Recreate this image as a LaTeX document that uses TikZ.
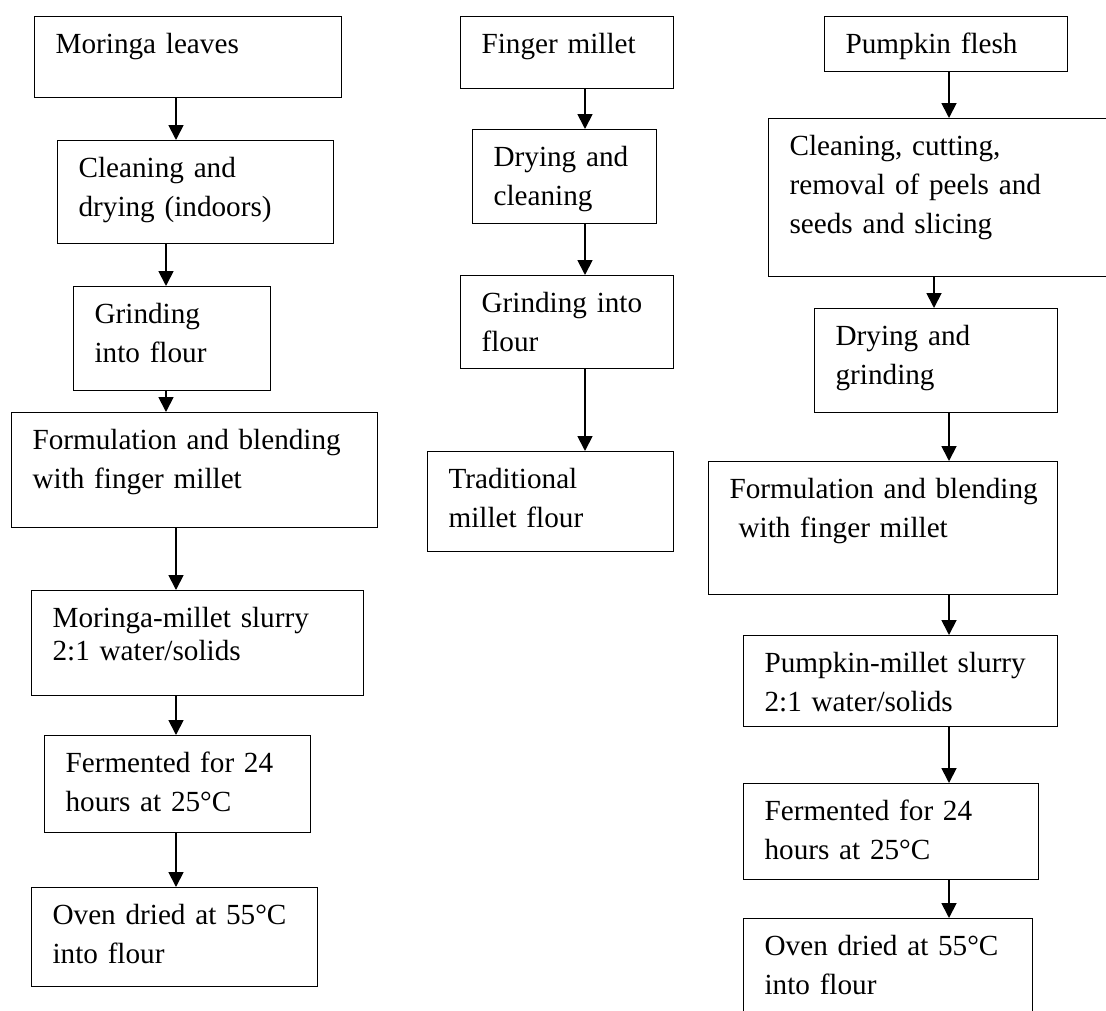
\documentclass[tikz,border=0pt]{standalone}
\usepackage{fontspec}
\setmainfont{Liberation Serif}
\usetikzlibrary{arrows.meta}

\begin{document}
\begin{tikzpicture}[
  x=1pt, y=-1pt,
  line join=miter,
  every node/.style={font=\fontsize{29.2}{39}\selectfont},
  stepbox/.style 2 args={draw, line width=1.2pt, anchor=north west,
    align=left, inner xsep=21pt, inner ysep=0pt,
    text width=#1, text height=37pt, text depth=#2},
  flow/.style={line width=1.8pt, -{Triangle[width=15pt,length=15pt]}}
]

\useasboundingbox (0,0) rectangle (1106,1010);

% --- Moringa column ---
\node[stepbox={265pt}{44pt}] (moringa) at (34,16) {Moringa leaves};
\node[stepbox={234pt}{66pt}] (lclean) at (57,140) {Cleaning and\\drying (indoors)};
\node[stepbox={155pt}{67pt}] (lgrind) at (73,286) {Grinding\\into flour};
\node[stepbox={324pt}{78pt}] (lform) at (11,412) {Formulation and blending\\with finger millet};
\node[stepbox={290pt}{68pt}, font=\fontsize{29.2}{33}\selectfont] (lslurry) at (31,590)
  {Moringa-millet slurry\\2:1 water/solids};
\node[stepbox={224pt}{60pt}] (lferm) at (44,735) {Fermented for 24\\hours at 25°C};
\node[stepbox={244pt}{62pt}] (loven) at (31,887) {Oven dried at 55°C\\into flour};

% --- Finger millet column ---
\node[stepbox={171pt}{35pt}] (finger) at (460,16) {Finger millet};
\node[stepbox={142pt}{57pt}] (mdry) at (472,129) {Drying and\\cleaning};
\node[stepbox={171pt}{56pt}] (mgrind) at (460,275) {Grinding into\\flour};
\node[stepbox={204pt}{63pt}] (trad) at (427,451) {Traditional\\millet flour};

% --- Pumpkin column ---
\node[stepbox={201pt}{18pt}] (pumpkin) at (824,16) {Pumpkin flesh};
\node[stepbox={318pt}{121pt}] (rclean) at (768,118)
  {Cleaning, cutting,\\removal of peels and\\seeds and slicing};
\node[stepbox={201pt}{67pt}] (rdry) at (814,308) {Drying and\\grinding};
\node[stepbox={307pt}{96pt}] (rform) at (708,461)
  {\mbox{Formulation and blending}\\\hspace*{9pt}with finger millet};
\node[stepbox={272pt}{54pt}] (rslurry) at (743,635) {Pumpkin-millet slurry\\2:1 water/solids};
\node[stepbox={253pt}{59pt}] (rferm) at (743,783) {Fermented for 24\\hours at 25°C};
\node[stepbox={247pt}{93pt}] (roven) at (743,918) {Oven dried at 55°C\\into flour};

% arrow lines
\coordinate (la) at (176,0);
\coordinate (lb) at (166,0);
\coordinate (ma) at (585,0);
\coordinate (ra) at (949,0);
\coordinate (rb) at (934,0);

\draw[flow] (moringa.south -| la) -- (lclean.north -| la);
\draw[flow] (lclean.south -| lb) -- (lgrind.north -| lb);
\draw[flow] (lgrind.south -| lb) -- (lform.north -| lb);
\draw[flow] (lform.south -| la) -- (lslurry.north -| la);
\draw[flow] (lslurry.south -| la) -- (lferm.north -| la);
\draw[flow] (lferm.south -| la) -- (loven.north -| la);

\draw[flow] (finger.south -| ma) -- (mdry.north -| ma);
\draw[flow] (mdry.south -| ma) -- (mgrind.north -| ma);
\draw[flow] (mgrind.south -| ma) -- (trad.north -| ma);

\draw[flow] (pumpkin.south -| ra) -- (rclean.north -| ra);
\draw[flow] (rclean.south -| rb) -- (rdry.north -| rb);
\draw[flow] (rdry.south -| ra) -- (rform.north -| ra);
\draw[flow] (rform.south -| ra) -- (rslurry.north -| ra);
\draw[flow] (rslurry.south -| ra) -- (rferm.north -| ra);
\draw[flow] (rferm.south -| ra) -- (roven.north -| ra);

\end{tikzpicture}
\end{document}
